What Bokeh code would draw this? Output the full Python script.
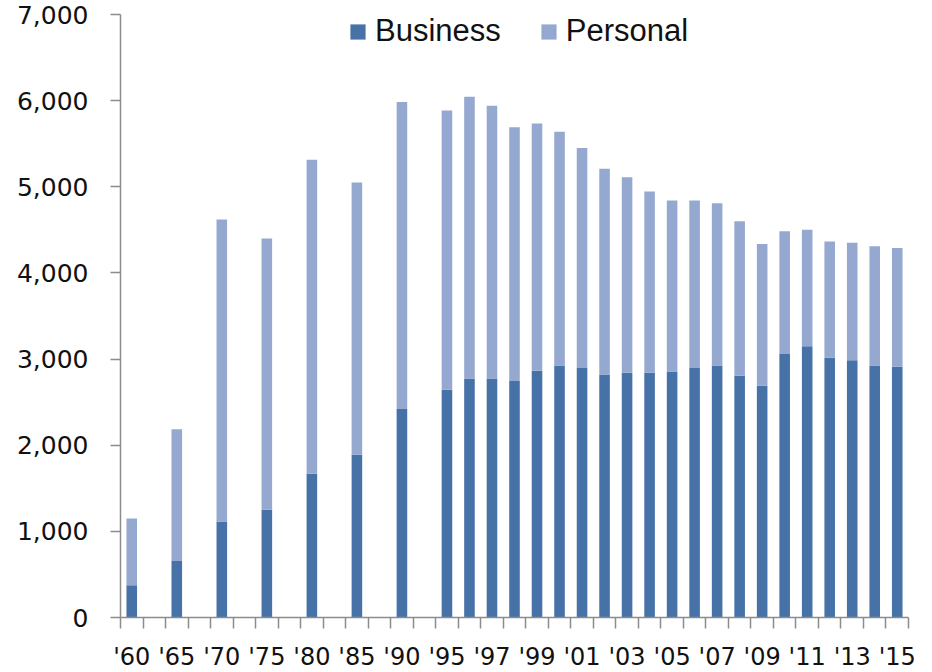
from bokeh.plotting import figure
from bokeh.models import ColumnDataSource, FixedTicker, Legend, LegendItem, Range1d, NumeralTickFormatter
from bokeh.embed import file_html
from bokeh.resources import INLINE

# ---- data ----
years = [1960, 1965, 1970, 1975, 1980, 1985, 1990,
         1995, 1996, 1997, 1998, 1999, 2000, 2001, 2002, 2003, 2004,
         2005, 2006, 2007, 2008, 2009, 2010, 2011, 2012, 2013, 2014, 2015]
business = [375, 655, 1115, 1250, 1670, 1890, 2420,
            2645, 2775, 2775, 2745, 2865, 2925, 2895, 2820, 2840, 2840,
            2855, 2895, 2925, 2805, 2690, 3060, 3150, 3015, 2985, 2925, 2910]
personal = [775, 1530, 3505, 3150, 3645, 3160, 3565,
            3240, 3270, 3165, 2945, 2870, 2715, 2555, 2390, 2270, 2105,
            1985, 1945, 1885, 1795, 1645, 1425, 1350, 1350, 1365, 1385, 1380]
label_years = [1960, 1965, 1970, 1975, 1980, 1985, 1990, 1995, 1997, 1999,
               2001, 2003, 2005, 2007, 2009, 2011, 2013, 2015]
y_ticks = [0, 1000, 2000, 3000, 4000, 5000, 6000, 7000]

BUS_COLOR = "#4672A8"
PER_COLOR = "#95A9D0"
AXIS_COLOR = "#8C8C8C"


def slot(y):
    # Excel-style category axis: 5-year steps take two slots before 1995
    return (y - 1960) // 5 * 2 if y < 1995 else 14 + (y - 1995)


n_slots = slot(years[-1]) + 1
src = ColumnDataSource(dict(
    slot=[slot(y) for y in years],
    business=business,
    personal=personal,
))

FRAME_H = 617          # frame spans from the canvas top to the zero line
AXIS_H = 603           # pixel height of the 0..7000 axis
y_max = y_ticks[-1]
y_end = y_max * FRAME_H / AXIS_H

p = figure(output_backend="svg", toolbar_location=None,
           frame_width=788, frame_height=FRAME_H,
           min_border_left=120, min_border_right=24,
           min_border_top=0, min_border_bottom=55,
           x_range=Range1d(-0.5, n_slots - 0.5),
           y_range=Range1d(0, y_end))

rs = p.vbar_stack(["business", "personal"], x="slot", width=0.47,
                  color=[BUS_COLOR, PER_COLOR], line_color=None, source=src)

p.xgrid.visible = False
p.ygrid.visible = False
p.outline_line_color = None
p.background_fill_color = "white"
p.border_fill_color = "white"

# x axis
xa = p.xaxis[0]
xa.ticker = FixedTicker(ticks=[slot(y) for y in label_years],
                        minor_ticks=[i - 0.5 for i in range(n_slots + 1)])
xa.major_label_overrides = {float(slot(y)): "'" + str(y)[2:] for y in label_years}
xa.major_tick_in = 0
xa.major_tick_out = 0
xa.minor_tick_in = 0
xa.minor_tick_out = 11
xa.minor_tick_line_color = AXIS_COLOR
xa.minor_tick_line_width = 1.5
xa.axis_line_color = AXIS_COLOR
xa.axis_line_width = 1.5
xa.major_label_standoff = 14
xa.major_label_text_font = "DejaVu Sans"
xa.major_label_text_font_size = "24px"
xa.major_label_text_color = "#111111"

# y axis
ya = p.yaxis[0]
ya.ticker = FixedTicker(ticks=y_ticks)
ya.bounds = (0, y_max)
ya.formatter = NumeralTickFormatter(format="0,0")
ya.major_tick_in = 0
ya.major_tick_out = 10
ya.minor_tick_out = 0
ya.minor_tick_in = 0
ya.major_tick_line_color = AXIS_COLOR
ya.major_tick_line_width = 1.5
ya.axis_line_color = AXIS_COLOR
ya.axis_line_width = 1.5
ya.major_label_standoff = 22
ya.major_label_text_font = "DejaVu Sans"
ya.major_label_text_font_size = "25px"
ya.major_label_text_color = "#111111"

legend = Legend(items=[LegendItem(label="Business", renderers=[rs[0]]),
                       LegendItem(label="Personal", renderers=[rs[1]])],
                orientation="horizontal", location=(228, 568),
                padding=0, margin=0, spacing=38,
                glyph_width=19, glyph_height=19, label_standoff=8,
                label_text_font="Liberation Sans", label_text_font_size="31px",
                label_text_color="#111111",
                border_line_color=None, background_fill_alpha=0)
p.add_layout(legend)

open("out.html", "w").write(file_html(p, INLINE))
